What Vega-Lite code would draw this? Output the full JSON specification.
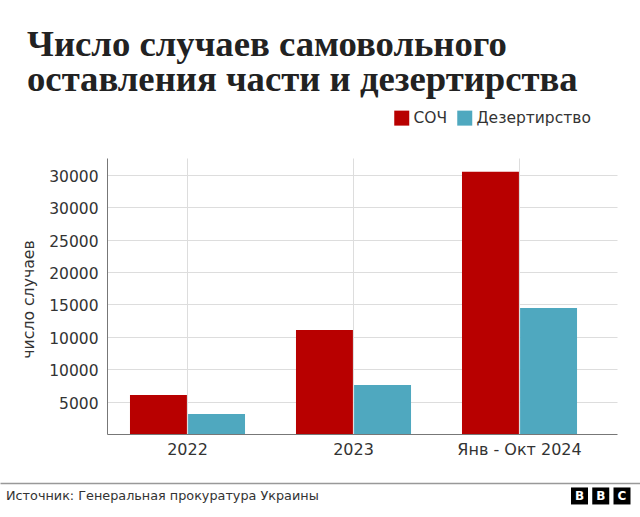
{
  "$schema": "https://vega.github.io/schema/vega-lite/v6.json",
  "description": "Число случаев самовольного оставления части и дезертирства",
  "autosize": "none",
  "padding": {"left": 107, "top": 158, "right": 23, "bottom": 83},
  "width": 510,
  "height": 276,
  "background": "white",
  "title": {
    "text": ["Число случаев самовольного", "оставления части и дезертирства"],
    "anchor": "start",
    "frame": "group",
    "font": "Liberation Serif",
    "fontWeight": "bold",
    "fontSize": 36.7,
    "lineHeight": 35,
    "color": "#222222",
    "dx": -80,
    "offset": 11
  },
  "layer": [
    {
      "data": {
        "values": [
          {"period": "2022", "series": "СОЧ", "cases": 4815},
          {"period": "2022", "series": "Дезертирство", "cases": 2470},
          {"period": "2023", "series": "СОЧ", "cases": 12840},
          {"period": "2023", "series": "Дезертирство", "cases": 6050},
          {"period": "Янв - Окт 2024", "series": "СОЧ", "cases": 32380},
          {"period": "Янв - Окт 2024", "series": "Дезертирство", "cases": 15550}
        ]
      },
      "mark": {"type": "bar"},
      "encoding": {
        "x": {
          "field": "period",
          "type": "nominal",
          "title": null,
          "scale": {"paddingInner": 0.307, "paddingOuter": 0.1896, "align": 0.365},
          "axis": {
            "domainColor": "#777777",
            "ticks": false,
            "grid": true,
            "gridColor": "#dddddd",
            "labelAngle": 0,
            "labelFont": "DejaVu Sans",
            "labelFontSize": 16,
            "labelColor": "#333333",
            "labelPadding": 7
          }
        },
        "xOffset": {
          "field": "series",
          "sort": ["СОЧ", "Дезертирство"],
          "scale": {"paddingInner": 0.02}
        },
        "y": {
          "field": "cases",
          "type": "quantitative",
          "title": "число случаев",
          "scale": {"domain": [0, 34070], "nice": false},
          "axis": {
            "values": [4000, 8000, 12000, 16000, 20000, 24000, 28000, 32000],
            "tickCount": 10,
            "labelExpr": "format(round(datum.value / 5000) * 5000, 'd')",
            "labelOverlap": false,
            "labelOffset": 1.5,
            "domainColor": "#777777",
            "ticks": false,
            "grid": true,
            "gridColor": "#dddddd",
            "labelFont": "DejaVu Sans",
            "labelFontSize": 15.5,
            "labelColor": "#333333",
            "labelPadding": 9,
            "titleFont": "DejaVu Sans",
            "titleFontSize": 15.7,
            "titleFontWeight": "normal",
            "titleColor": "#333333",
            "titleX": -71,
            "titleY": 141
          }
        },
        "color": {
          "field": "series",
          "type": "nominal",
          "sort": ["СОЧ", "Дезертирство"],
          "title": null,
          "scale": {"domain": ["СОЧ", "Дезертирство"], "range": ["#b80000", "#4fa8bf"]},
          "legend": {
            "orient": "none",
            "direction": "horizontal",
            "legendX": 287,
            "legendY": -48,
            "symbolType": "square",
            "symbolSize": 225,
            "symbolOpacity": 1,
            "symbolStrokeWidth": 0,
            "labelFont": "DejaVu Sans",
            "labelFontSize": 15.5,
            "labelColor": "#333333",
            "labelOffset": 4,
            "columnPadding": 9
          }
        }
      }
    },
    {
      "data": {"values": [{"source": "Генеральная прокуратура Украины"}]},
      "mark": {"type": "rule", "opacity": 0},
      "encoding": {
        "x": {
          "datum": 0,
          "type": "quantitative",
          "scale": {"domain": [0, 1], "range": [-107, 533]},
          "axis": {
            "orient": "bottom",
            "offset": 49,
            "values": [],
            "ticks": false,
            "labels": false,
            "grid": false,
            "domainColor": "#999999",
            "domainWidth": 1.5,
            "title": "Источник: Генеральная прокуратура Украины",
            "titleFont": "DejaVu Sans",
            "titleFontSize": 12.8,
            "titleFontWeight": "normal",
            "titleColor": "#333333",
            "titleAnchor": "start",
            "titleAlign": "left",
            "titleX": -101.5,
            "titleY": 6
          }
        }
      }
    },
    {
      "data": {
        "values": [
          {"slot": "1", "letter": "B"},
          {"slot": "2", "letter": "B"},
          {"slot": "3", "letter": "C"}
        ]
      },
      "encoding": {
        "x": {
          "field": "slot",
          "type": "ordinal",
          "axis": null,
          "scale": {"type": "point", "padding": 0, "range": [472.5, 515]}
        },
        "y": {"datum": -7650, "type": "quantitative"}
      },
      "layer": [
        {"mark": {"type": "point", "shape": "square", "filled": true, "color": "#000000", "opacity": 1, "size": 289}},
        {
          "mark": {"type": "text", "color": "#ffffff", "font": "DejaVu Sans", "fontWeight": "bold", "fontSize": 12, "baseline": "middle"},
          "encoding": {"text": {"field": "letter"}}
        }
      ]
    }
  ],
  "resolve": {"scale": {"x": "independent"}, "axis": {"x": "independent"}},
  "config": {"view": {"stroke": null}}
}
